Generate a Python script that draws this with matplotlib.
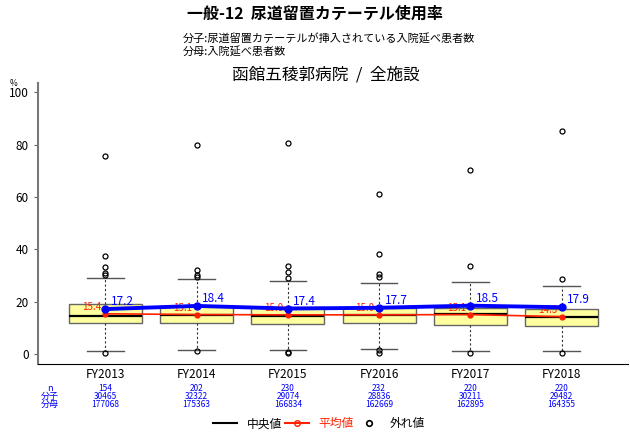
import matplotlib
matplotlib.use("Agg")
import matplotlib.pyplot as plt
import matplotlib.transforms as mtransforms
from matplotlib.lines import Line2D

plt.rcParams['font.family'] = ['Noto Sans CJK JP', 'DejaVu Sans']

######### データ ##########
years = ["FY2013", "FY2014", "FY2015", "FY2016", "FY2017", "FY2018"]
q1 = [11.7, 11.7, 11.5, 11.7, 11.3, 10.8]
med = [14.6, 15.0, 14.7, 14.9, 15.4, 14.0]
q3 = [19.1, 18.5, 18.1, 17.7, 17.5, 17.3]
whis_lo = [1.3, 1.5, 1.5, 1.8, 1.1, 1.1]
whis_hi = [29.2, 28.6, 28.0, 27.0, 27.4, 26.0]
fliers = [
    [75.6, 37.4, 33.1, 30.8, 30.3, 0.5],
    [79.8, 32.1, 30.2, 29.6, 1.1],
    [80.6, 33.7, 31.4, 29.1, 0.9, 0.6],
    [61.1, 38.1, 30.6, 29.3, 1.5, 0.6],
    [70.2, 33.7, 0.3],
    [85.2, 28.8, 0.4],
]
mean_all = [15.4, 15.1, 15.0, 15.0, 15.1, 14.3]
hospital = [17.2, 18.4, 17.4, 17.7, 18.5, 17.9]
n_list = [154, 202, 230, 232, 220, 220]
bunshi = [30465, 32322, 29074, 28836, 30211, 29482]
bunbo = [177068, 175363, 166834, 162669, 162895, 164355]
######### データ ##########

fig = plt.figure(figsize=(6.3, 4.36), dpi=100)
ax = fig.add_axes([0.0603, 0.165, 0.9367, 0.645])

x = list(range(1, len(years) + 1))
stats = []
for i in range(len(years)):
    stats.append({'q1': q1[i], 'med': med[i], 'q3': q3[i],
                  'whislo': whis_lo[i], 'whishi': whis_hi[i],
                  'fliers': fliers[i], 'label': years[i]})

ax.bxp(stats, positions=x, widths=0.8, patch_artist=True, capwidths=0.4,
       boxprops=dict(facecolor='#ffffa0', edgecolor='#666666', linewidth=1),
       medianprops=dict(color='black', linewidth=1.6),
       whiskerprops=dict(color='#333333', linestyle=(0, (2, 2)), linewidth=0.8),
       capprops=dict(color='#555555', linewidth=1),
       flierprops=dict(marker='o', markerfacecolor='none', markeredgecolor='black',
                       markersize=3.6, markeredgewidth=0.9))

# 平均値
ax.plot(x, mean_all, color='#ff2000', linewidth=1.2, marker='o', markersize=3.5,
        zorder=4)
for xi, v in zip(x, mean_all):
    ax.text(xi - 0.05, v + 0.6, f"{v:.1f}", color='#ff2000', fontsize=7,
            ha='right', va='bottom', zorder=3)

# 自院
ax.plot(x, hospital, color='#0000ff', linewidth=2.8, marker='o', markersize=5,
        zorder=5)
for xi, v in zip(x, hospital):
    ax.text(xi + 0.06, v + 0.3, f"{v:.1f}", color='#0000ff', fontsize=8.5,
            ha='left', va='bottom', zorder=6)

ax.set_xlim(0.26, 6.73)
ax.set_ylim(-3.8, 103.6)
ax.set_yticks([0, 20, 40, 60, 80, 100])
ax.set_xticks(x)
ax.set_xticklabels(years, fontsize=8.5)
ax.tick_params(axis='x', length=0, pad=3)
ax.tick_params(axis='y', labelsize=8.5, length=3, color='#666666')
ax.spines['top'].set_visible(False)
ax.spines['right'].set_visible(False)
ax.spines['left'].set_color('#777777')
ax.spines['left'].set_linewidth(1.5)
ax.spines['bottom'].set_color('black')

# n / 分子 / 分母
trans = mtransforms.blended_transform_factory(ax.transData, fig.transFigure)
rows_y = [0.108, 0.090, 0.072]
for label, yy in zip(["n", "分子", "分母"], rows_y):
    fig.text(50 / 630, yy, label, color='#0000ff', fontsize=6.5, ha='center', va='center')
for xi, a, b, c in zip(x, n_list, bunshi, bunbo):
    for val, yy in zip([a, b, c], rows_y):
        ax.text(xi, yy, str(val), transform=trans, color='#0000ff', fontsize=6,
                ha='center', va='center')

# タイトル
fig.text(0.5, 0.968, "一般-12  尿道留置カテーテル使用率", fontsize=11.5, fontweight='bold',
         ha='center', va='center')
fig.text(183 / 630, 0.910, "分子:尿道留置カテーテルが挿入されている入院延べ患者数",
         fontsize=8, ha='left', va='center')
fig.text(183 / 630, 0.881, "分母:入院延べ患者数", fontsize=8, ha='left', va='center')
fig.text(326 / 630, 0.828, "函館五稜郭病院  /  全施設", fontsize=12, ha='center',
         va='center')
fig.text(10 / 630, 0.808, "%", fontsize=6, ha='left', va='center')

handles = [
    Line2D([], [], color='black', linewidth=1.5),
    Line2D([], [], color='#ff2000', linewidth=1.5, marker='o', markerfacecolor='none',
           markersize=4),
    Line2D([], [], color='black', linestyle='none', marker='o', markerfacecolor='none',
           markersize=4, markeredgewidth=1.2),
]
leg = fig.legend(handles, ["中央値", "平均値", "外れ値"], loc='center',
                 bbox_to_anchor=(0.507, 0.028), ncol=3, frameon=False, fontsize=8.5,
                 handlelength=2, columnspacing=0.3, handletextpad=0.8)
for t, c in zip(leg.get_texts(), ['black', '#ff2000', 'black']):
    t.set_color(c)

fig.savefig("out.png", dpi=100)
